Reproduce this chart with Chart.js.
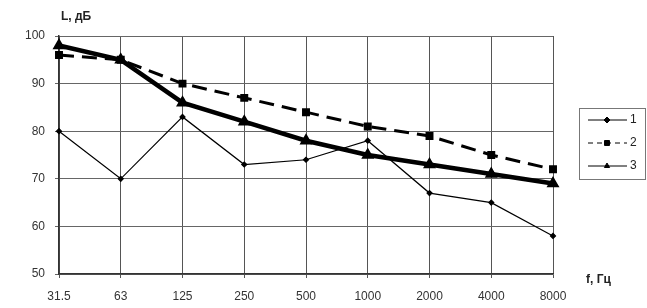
<!DOCTYPE html>
<html>
<head>
<title>L, дБ</title>
<style>
  body { margin: 0; background: #fff; }
  #wrap { width: 647px; height: 308px; }
</style>
</head>
<body>
<div id="wrap"><canvas id="noiseChart" width="647" height="308"></canvas></div>
<script src="https://cdn.jsdelivr.net/npm/chart.js"></script>
<script>
// frequencies, Hz
var freq_labels = ["31.5", "63", "125", "250", "500", "1000", "2000", "4000", "8000"];
// series 1, 2, 3 (levels, dB)
var level_1 = [80, 70, 83, 73, 74, 78, 67, 65, 58];
var level_2 = [96, 95, 90, 87, 84, 81, 79, 75, 72];
var level_3 = [98, 95, 86, 82, 78, 75, 73, 71, 69];
var series_names = ["1", "2", "3"];
var y_ticks = [50, 60, 70, 80, 90, 100];

var font_main = { family: "'Liberation Sans', Arial, sans-serif", size: 12 };

// axis titles + legend box
var extras = {
  id: 'extras',
  afterDraw: function(chart) {
    var ctx = chart.ctx;
    ctx.save();
    ctx.fillStyle = '#222';
    ctx.font = 'bold 12px "Liberation Sans", Arial, sans-serif';
    ctx.textBaseline = 'middle';
    ctx.textAlign = 'left';
    ctx.fillText('L, дБ', 61, 17);
    ctx.fillText('f, Гц', 586, 280);

    // legend
    var bx = 579, by = 108, bw = 66, bh = 71;
    ctx.strokeStyle = '#777';
    ctx.lineWidth = 1;
    ctx.strokeRect(bx + 0.5, by + 0.5, bw, bh);
    ctx.font = '12px "Liberation Sans", Arial, sans-serif';
    chart.data.datasets.forEach(function(ds, i) {
      var yy = by + 12 + i * 23;
      ctx.strokeStyle = '#000';
      ctx.lineWidth = 1;
      ctx.setLineDash(ds.borderDash && ds.borderDash.length ? [5, 4] : []);
      ctx.beginPath();
      ctx.moveTo(bx + 9, yy);
      ctx.lineTo(bx + 48, yy);
      ctx.stroke();
      ctx.setLineDash([]);
      ctx.fillStyle = '#000';
      Chart.helpers.drawPoint(ctx, {
        pointStyle: ds.pointStyle,
        radius: ds.pointStyle === 'rect' ? 3.5 : 3,
        borderWidth: 1
      }, bx + 28, yy);
      ctx.fillStyle = '#222';
      ctx.fillText(ds.label, bx + 51, yy);
    });
    ctx.restore();
  }
};

var config = {
  type: 'line',
  data: {
    labels: freq_labels,
    datasets: [{
      label: series_names[0],
      data: level_1,
      borderColor: '#000',
      backgroundColor: '#000',
      borderWidth: 1.2,
      pointStyle: 'rectRot',
      pointRadius: 2.5,
      tension: 0
    }, {
      label: series_names[1],
      data: level_2,
      borderColor: '#000',
      backgroundColor: '#000',
      borderWidth: 3,
      borderDash: [15, 8],
      pointStyle: 'rect',
      pointRadius: 3.5,
      tension: 0
    }, {
      label: series_names[2],
      data: level_3,
      borderColor: '#000',
      backgroundColor: '#000',
      borderWidth: 4.5,
      pointStyle: 'triangle',
      pointRadius: 3,
      tension: 0
    }]
  },
  options: {
    responsive: false,
    animation: false,
    devicePixelRatio: 1,
    layout: { padding: { left: 0, top: 36, right: 94, bottom: 0 } },
    plugins: {
      legend: { display: false },
      tooltip: { enabled: false }
    },
    scales: {
      x: {
        offset: false,
        grid: { color: '#555', lineWidth: 1, tickLength: 4, drawTicks: true },
        border: { color: '#333', width: 1.5 },
        ticks: { color: '#333', font: font_main, maxRotation: 0, autoSkip: false, padding: 11 },
        afterFit: function(scale) { scale.height = 34; }
      },
      y: {
        min: 50,
        max: 100,
        afterBuildTicks: function(scale) {
          scale.ticks = y_ticks.map(function(v) { return { value: v }; });
        },
        grid: { color: '#666', lineWidth: 1, tickLength: 4, drawTicks: true },
        border: { color: '#333', width: 1.5 },
        ticks: { color: '#333', font: font_main, padding: 10 },
        afterFit: function(scale) { scale.width = 59; }
      }
    }
  },
  plugins: [extras]
};

window.noiseChart = new Chart(document.getElementById('noiseChart'), config);
</script>
</body>
</html>
